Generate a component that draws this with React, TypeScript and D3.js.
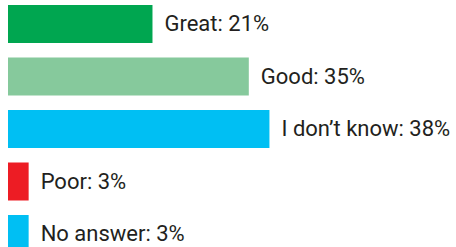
import { useEffect, useRef } from 'react'
import * as d3 from 'd3'

const categories = ['Great', 'Good', 'I don\u2019t know', 'Poor', 'No answer']
const percents = [21, 35, 38, 3, 3]
const colors = ['#00a650', '#86c99c', '#00bff3', '#ed1c24', '#00bff3']

export default function App() {
  const svgRef = useRef<SVGSVGElement>(null)

  useEffect(() => {
    if (!svgRef.current) return
    const width = 456
    const height = 247
    const svg = d3.select(svgRef.current)
    svg.selectAll('*').remove()
    svg.attr('width', width).attr('height', height)

    const rows = categories.map((c, i) => ({ label: c, value: percents[i], color: colors[i] }))

    // x: percent -> px
    const x = d3.scaleLinear().domain([0, 100]).range([0, 688])
    // y: row bands, step 52.5, bar 38
    const y = d3
      .scaleBand()
      .domain(categories)
      .range([5, 253])
      .paddingInner(14.5 / 52.5)
      .paddingOuter(0)

    const g = svg.append('g').attr('transform', 'translate(8,0)')

    g.selectAll('rect')
      .data(rows)
      .enter()
      .append('rect')
      .attr('x', 0)
      .attr('y', d => y(d.label) || 0)
      .attr('width', d => x(d.value))
      .attr('height', y.bandwidth())
      .attr('fill', d => d.color)

    g.selectAll('text')
      .data(rows)
      .enter()
      .append('text')
      .attr('x', d => x(d.value) + 12)
      .attr('y', d => (y(d.label) || 0) + y.bandwidth() / 2 + 7)
      .style('font-family', 'Roboto, sans-serif')
      .style('font-size', '22px')
      .style('fill', '#231f20')
      .text(d => `${d.label}: ${d.value}%`)
  }, [])

  return (
    <div style={{ position: 'absolute', left: 0, top: 0 }}>
      <svg ref={svgRef} style={{ display: 'block' }}></svg>
    </div>
  )
}
